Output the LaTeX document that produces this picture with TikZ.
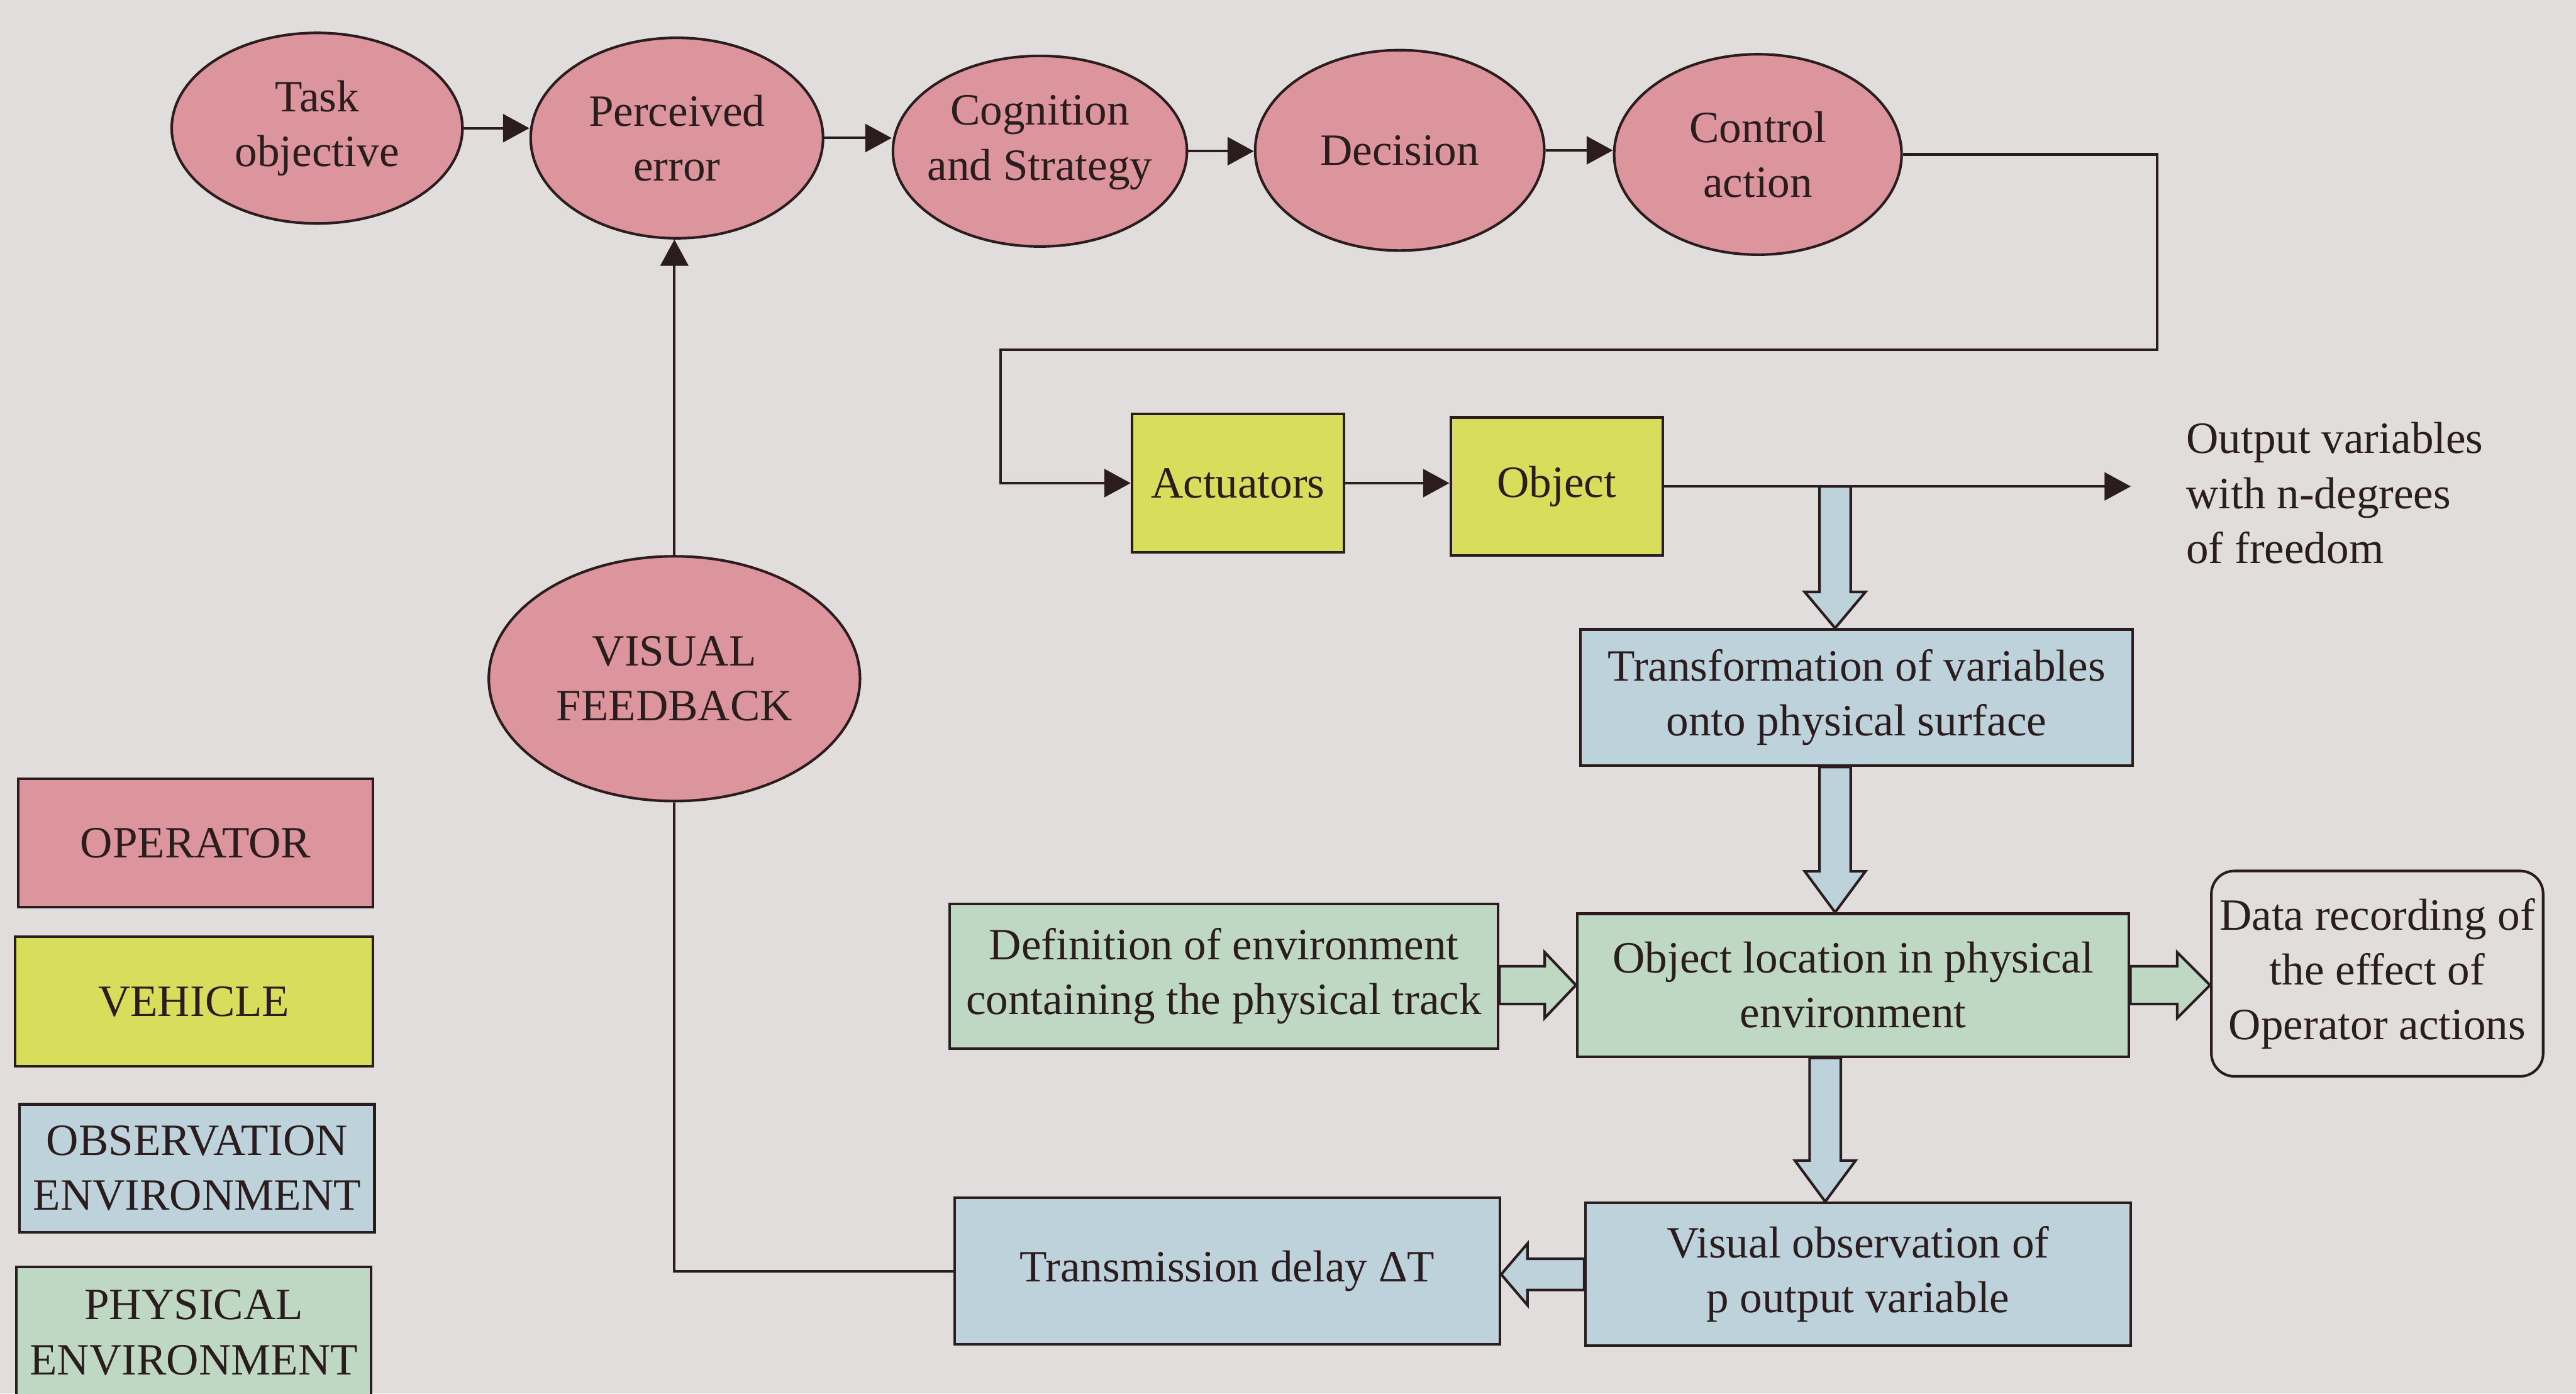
\documentclass[tikz,border=0pt]{standalone}
\usepackage{fontspec}
\setmainfont{Liberation Serif}
\usetikzlibrary{arrows.meta,calc,shapes.geometric}

\definecolor{bgc}{HTML}{E1DDDC}
\definecolor{opc}{HTML}{DC949D}
\definecolor{vehc}{HTML}{D8DE5C}
\definecolor{obsc}{HTML}{BED2DC}
\definecolor{phyc}{HTML}{BFD8C3}
\definecolor{inkc}{HTML}{2B1D1D}

% hollow block arrow: style, start, tip, shaft half width, head half width, head length
\newcommand\fatarrow[6]{%
  \path ($(#3)!#6!(#2)$) coordinate (fa-base);
  \draw[#1] ($(#2)!#4!90:(#3)$) -- ($(fa-base)!#4!90:(#3)$) -- ($(fa-base)!#5!90:(#3)$)
    -- (#3) -- ($(fa-base)!#5!-90:(#3)$) -- ($(fa-base)!#4!-90:(#3)$) -- ($(#2)!#4!-90:(#3)$) -- cycle;}

\tikzset{
  every node/.style={font=\fontsize{15.5}{19}\selectfont, text=inkc},
  ell/.style={ellipse, draw=inkc, fill=opc, inner sep=0pt},
  blk/.style={rectangle, draw=inkc, inner sep=2pt, align=center},
  arr/.style={draw=inkc, -{Triangle[length=0.32cm,width=0.34cm]}},
  wire/.style={draw=inkc},
  fatobs/.style={draw=inkc, fill=obsc, line join=miter},
  fatphy/.style={draw=inkc, fill=phyc, line join=miter},
}

\begin{document}
\begin{tikzpicture}[x=0.02cm, y=-0.02cm, line width=0.9pt]
\useasboundingbox (0,0) rectangle (1568,848);
\clip (0,0) rectangle (1568,848);
\fill[bgc] (0,0) rectangle (1568,848);

% operator chain
\node[ell, minimum width=3.54cm, minimum height=2.32cm,
      label={[align=center]center:Task\\objective}] (task) at (193,78) {};
\node[ell, minimum width=3.56cm, minimum height=2.44cm,
      label={[align=center]center:Perceived\\error}] (perc) at (412,84) {};
\node[ell, minimum width=3.58cm, minimum height=2.32cm,
      label={[align=center,yshift=3pt]center:Cognition\\and Strategy}] (cog) at (633,92) {};
\node[ell, minimum width=3.52cm, minimum height=2.44cm,
      label={[align=center]center:Decision}] (dec) at (852,91.5) {};
\node[ell, minimum width=3.50cm, minimum height=2.44cm,
      label={[align=center]center:Control\\action}] (ctrl) at (1070,94) {};
\node[ell, minimum width=4.52cm, minimum height=2.98cm,
      label={[align=center]center:VISUAL\\FEEDBACK}] (vis) at (410.5,413) {};

% vehicle
\node[blk, fill=vehc, minimum width=2.58cm, minimum height=1.68cm] (act) at (753.5,294) {Actuators};
\node[blk, fill=vehc, minimum width=2.58cm, minimum height=1.68cm] (obj) at (947.5,296) {Object};

% environments
\node[blk, fill=obsc, minimum width=6.72cm, minimum height=1.66cm] (trans) at (1130,424.5)
  {Transformation of variables\\onto physical surface};
\node[blk, fill=phyc, minimum width=6.68cm, minimum height=1.76cm] (defn) at (745,594)
  {Definition of environment\\containing the physical track};
\node[blk, fill=phyc, minimum width=6.72cm, minimum height=1.74cm] (objloc) at (1128,599.5)
  {Object location in physical\\environment};
\node[blk, rounded corners=0.28cm, minimum width=4.04cm, minimum height=2.5cm] (data) at (1447,592.5)
  {Data recording of\\the effect of\\Operator actions};
\node[blk, fill=obsc, minimum width=6.64cm, minimum height=1.74cm] (visobs) at (1131,775.5)
  {Visual observation of\\p output variable};
\node[blk, fill=obsc, minimum width=6.64cm, minimum height=1.78cm] (tdel) at (747,773.5)
  {Transmission delay ΔT};

% legend
\node[blk, fill=opc, minimum width=4.32cm, minimum height=1.56cm] (lop) at (119,513) {OPERATOR};
\node[blk, fill=vehc, minimum width=4.36cm, minimum height=1.58cm] (lveh) at (118,609.5) {VEHICLE};
\node[blk, fill=obsc, minimum width=4.32cm, minimum height=1.56cm] (lobs) at (120,711) {OBSERVATION\\ENVIRONMENT};
\node[blk, fill=phyc, minimum width=4.32cm, minimum height=1.60cm] (lphy) at (118,811) {PHYSICAL\\ENVIRONMENT};

% output label
\node[anchor=west, align=left, inner sep=0pt] (outtxt) at (1330,300)
  {Output variables\\with n-degrees\\of freedom};

% connectors
\draw[arr] (task.east) -- (task.east -| perc.west);
\draw[arr] (perc.east) -- (perc.east -| cog.west);
\draw[arr] (cog.east) -- (cog.east -| dec.west);
\draw[arr] (dec.east) -- (dec.east -| ctrl.west);
\coordinate (k1) at (1313,213);
\coordinate (k2) at (609,213);
\draw[arr] (ctrl.east) -| (k1) -- (k2) |- (act.west);
\draw[arr] (act.east) -- (act.east -| obj.west);
\coordinate (outend) at (1297,296);
\draw[arr] (obj.east) -- (obj.east -| outend);
\draw[wire] (tdel.west) -| (vis.south);
\draw[arr] (vis.north) -- (vis.north |- perc.south);

% block arrows
\coordinate (j1) at (1117,296);
\path (trans.north -| j1) coordinate (f1e);
\fatarrow{fatobs}{j1}{f1e}{0.19cm}{0.37cm}{0.44cm}
\path (trans.south -| j1) coordinate (f2s) (objloc.north -| j1) coordinate (f2e);
\fatarrow{fatobs}{f2s}{f2e}{0.19cm}{0.37cm}{0.5cm}
\coordinate (j2) at (1111,700);
\path (objloc.south -| j2) coordinate (f3s) (visobs.north -| j2) coordinate (f3e);
\fatarrow{fatobs}{f3s}{f3e}{0.19cm}{0.37cm}{0.5cm}
\path (defn.east |- objloc.west) coordinate (f4s);
\fatarrow{fatphy}{f4s}{objloc.west}{0.23cm}{0.4cm}{0.38cm}
\path (objloc.east -| data.west) coordinate (f5e);
\fatarrow{fatphy}{objloc.east}{f5e}{0.23cm}{0.4cm}{0.4cm}
\path (visobs.west -| tdel.east) coordinate (f6e);
\fatarrow{fatobs}{visobs.west}{f6e}{0.19cm}{0.375cm}{0.32cm}
\end{tikzpicture}
\end{document}
